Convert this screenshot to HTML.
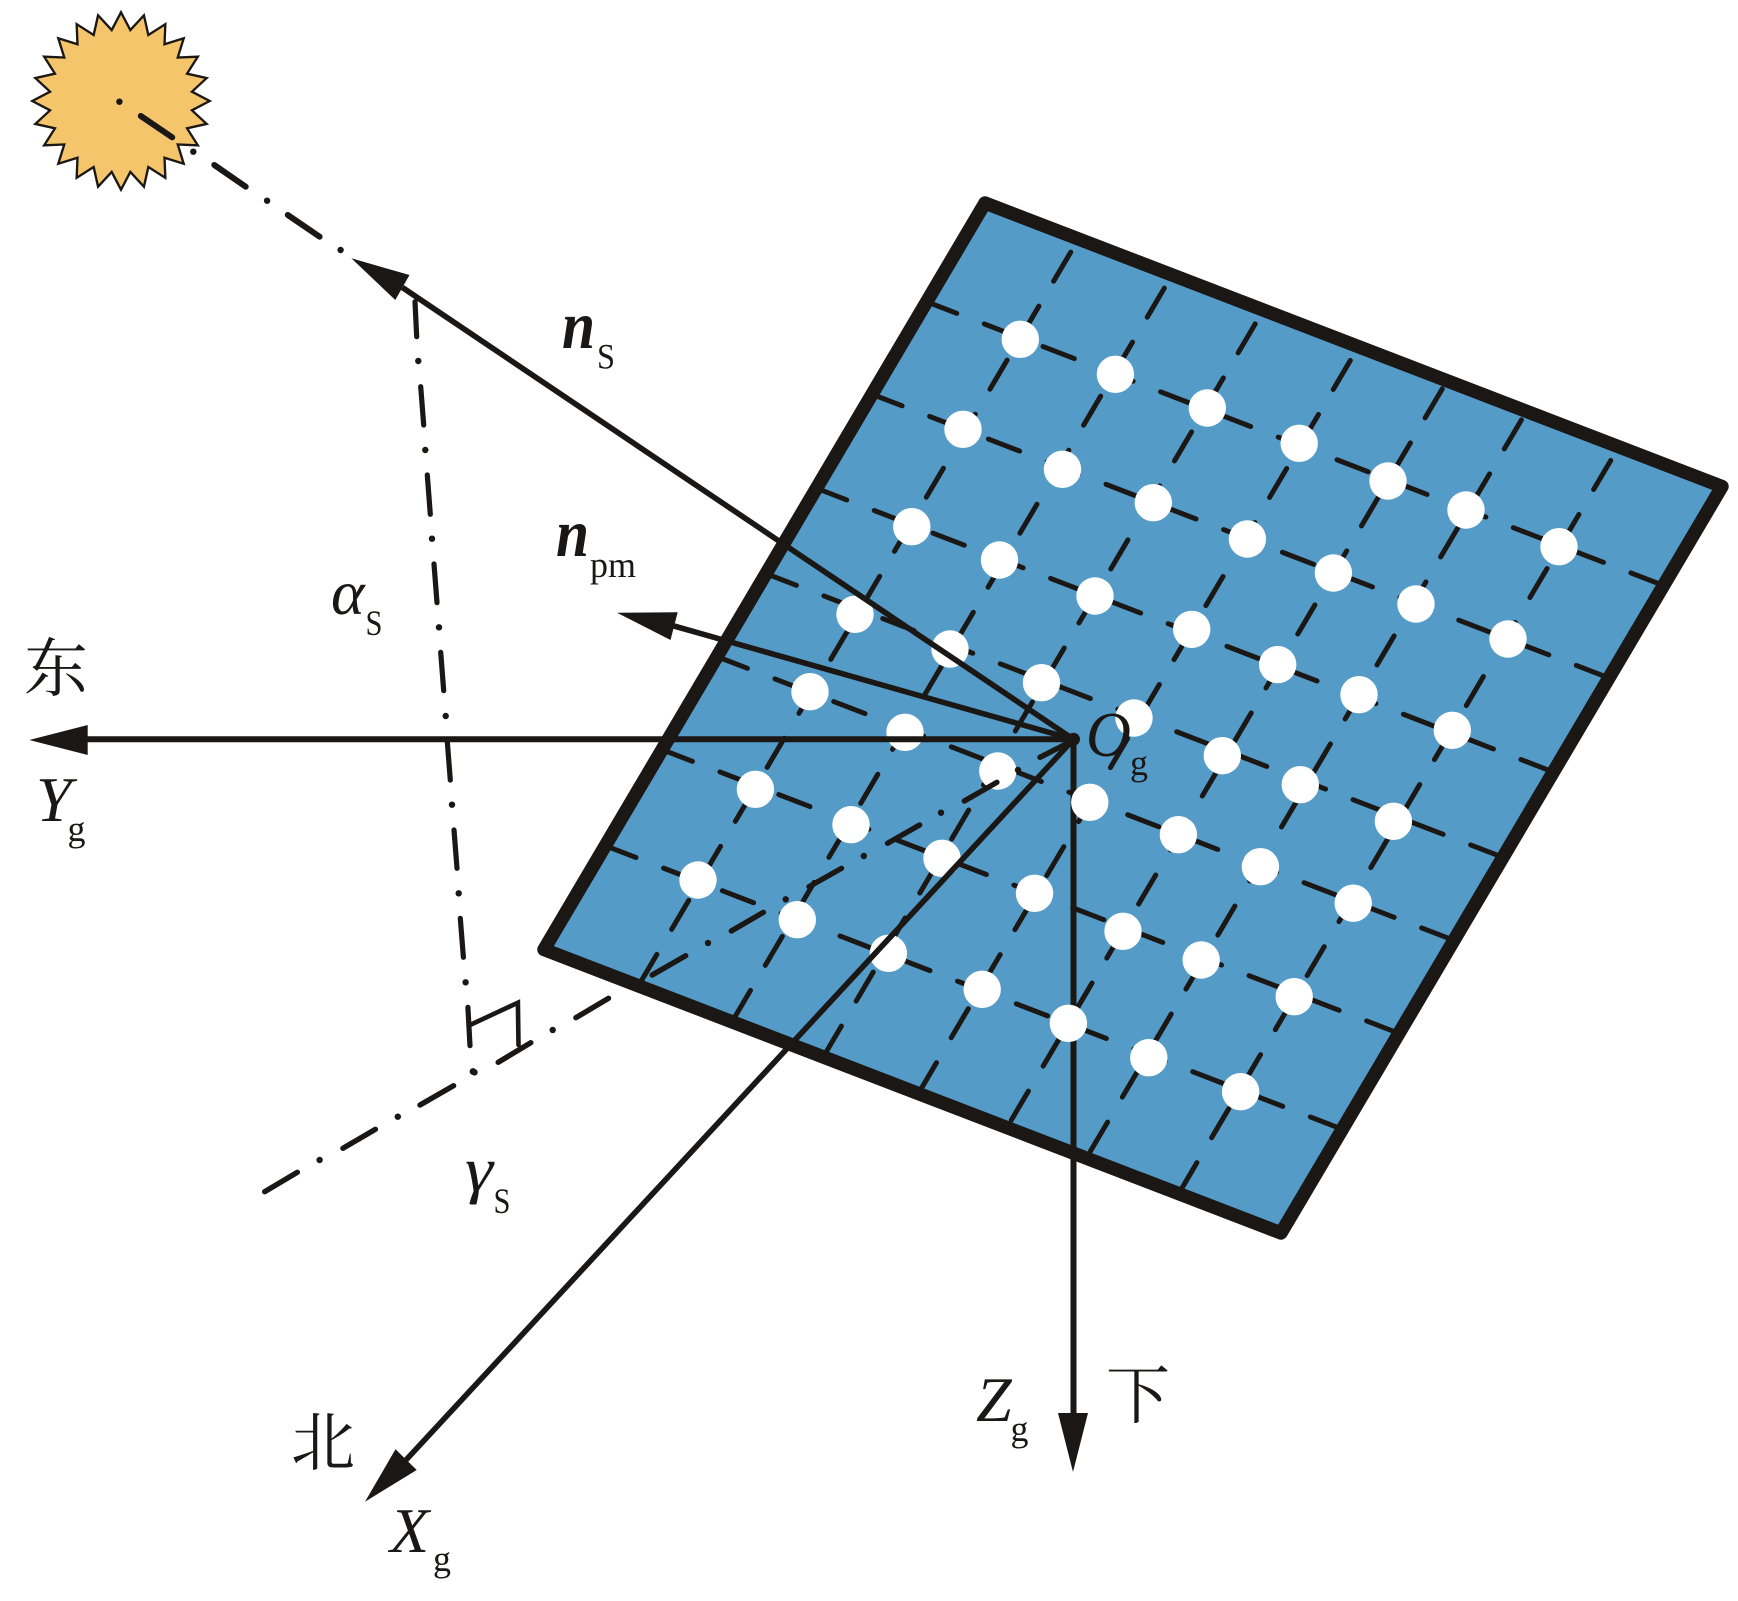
<!DOCTYPE html>
<html>
<head>
<meta charset="utf-8">
<style>
html,body{margin:0;padding:0;background:#fff;}
svg{display:block;}
text{fill:#1a1715;font-family:"Liberation Serif","Noto Serif CJK SC",serif;}
.i{font-style:italic;font-size:64px;}
.s{font-size:36px;}
.b{font-style:italic;font-weight:bold;font-size:68px;}
.c{font-size:64px;text-anchor:middle;font-family:"Noto Serif CJK SC","Liberation Serif",serif;}
</style>
</head>
<body>
<svg width="1738" height="1601" viewBox="0 0 1738 1601" xmlns="http://www.w3.org/2000/svg">
<rect width="1738" height="1601" fill="#fff"/>

<!-- sun -->
<polygon transform="translate(121 101) scale(.98)" fill="#f5c56b" stroke="#1a1715" stroke-width="2.4" stroke-linejoin="miter" points="90.5,0 72.4,9.5 87.4,23.4 67.4,27.9 78.4,45.25 57.9,44.4 64,64 44.4,57.9 45.25,78.4 27.9,67.4 23.4,87.4 9.5,72.4 0,90.5 -9.5,72.4 -23.4,87.4 -27.9,67.4 -45.25,78.4 -44.4,57.9 -64,64 -57.9,44.4 -78.4,45.25 -67.4,27.9 -87.4,23.4 -72.4,9.5 -90.5,0 -72.4,-9.5 -87.4,-23.4 -67.4,-27.9 -78.4,-45.25 -57.9,-44.4 -64,-64 -44.4,-57.9 -45.25,-78.4 -27.9,-67.4 -23.4,-87.4 -9.5,-72.4 0,-90.5 9.5,-72.4 23.4,-87.4 27.9,-67.4 45.25,-78.4 44.4,-57.9 64,-64 57.9,-44.4 78.4,-45.25 67.4,-27.9 87.4,-23.4 72.4,-9.5"/>

<!-- panel fill -->
<polygon points="985,204 1720,487 1281,1232 546,949" fill="#559bc8"/>

<!-- grid: lines parallel to top edge -->
<g stroke="#1a1715" stroke-width="5" stroke-linecap="round" fill="none" stroke-dasharray="33.5 29.5" stroke-dashoffset="2">
<line x1="927.3" y1="302" x2="1662.3" y2="585"/>
<line x1="872.7" y1="394.5" x2="1607.7" y2="677.5"/>
<line x1="817.3" y1="488.6" x2="1552.3" y2="771.6"/>
<line x1="767" y1="574" x2="1502" y2="857"/>
<line x1="718" y1="657" x2="1453" y2="940"/>
<line x1="663" y1="750" x2="1398" y2="1033"/>
<line x1="606.6" y1="846.2" x2="1341.6" y2="1129"/>
</g>
<!-- grid: lines parallel to left edge -->
<g stroke="#1a1715" stroke-width="5" stroke-linecap="round" fill="none" stroke-dasharray="33.7 29" stroke-dashoffset="-2.5">
<line x1="1072" y1="250" x2="639.1" y2="984.6"/>
<line x1="1165.6" y1="286" x2="732.7" y2="1020.6"/>
<line x1="1256.5" y1="321.7" x2="823.6" y2="1056.3"/>
<line x1="1351.6" y1="358.3" x2="918.7" y2="1092.9"/>
<line x1="1443.5" y1="386.7" x2="1007.4" y2="1126.7"/>
<line x1="1522.7" y1="417.7" x2="1086.6" y2="1157.7"/>
<line x1="1612" y1="458.3" x2="1179.1" y2="1192.9"/>
</g>

<!-- Z axis (under the white dots) -->
<line x1="1073.5" y1="739" x2="1073.5" y2="1415" stroke="#1a1715" stroke-width="6"/>
<polygon points="1058,1413 1088,1413 1073,1472" fill="#1a1715"/>

<!-- white dots -->
<g fill="#fff">
<circle cx="1020.3" cy="339.3" r="18.7"/><circle cx="1115.4" cy="374.3" r="18.7"/><circle cx="1207.3" cy="408" r="18.7"/><circle cx="1299.2" cy="443.3" r="18.7"/><circle cx="1388" cy="481" r="18.7"/><circle cx="1466" cy="510" r="18.7"/><circle cx="1559" cy="546.7" r="18.7"/>
<circle cx="963" cy="429.3" r="18.7"/><circle cx="1062.5" cy="469.3" r="18.7"/><circle cx="1153.3" cy="502.7" r="18.7"/><circle cx="1247.4" cy="539" r="18.7"/><circle cx="1333.4" cy="573" r="18.7"/><circle cx="1416" cy="604" r="18.7"/><circle cx="1508" cy="639" r="18.7"/>
<circle cx="911.8" cy="526.7" r="18.7"/><circle cx="999.5" cy="560" r="18.7"/><circle cx="1095" cy="596" r="18.7"/><circle cx="1191.7" cy="629.4" r="18.7"/><circle cx="1277.7" cy="664.6" r="18.7"/><circle cx="1359" cy="694.7" r="18.7"/><circle cx="1452.3" cy="730.3" r="18.7"/>
<circle cx="855" cy="614.3" r="18.7"/><circle cx="950" cy="649" r="18.7"/><circle cx="1041.5" cy="682.7" r="18.7"/><circle cx="1134" cy="718" r="18.7"/><circle cx="1222.3" cy="755.7" r="18.7"/><circle cx="1300.3" cy="784.7" r="18.7"/><circle cx="1393.4" cy="821.3" r="18.7"/>
<circle cx="810" cy="691.7" r="18.7"/><circle cx="905" cy="732.3" r="18.7"/><circle cx="997.8" cy="771" r="18.7"/><circle cx="1089.8" cy="802.3" r="18.7"/><circle cx="1178.4" cy="834.7" r="18.7"/><circle cx="1260.4" cy="866.7" r="18.7"/><circle cx="1353.2" cy="903.2" r="18.7"/>
<circle cx="755.4" cy="789.3" r="18.7"/><circle cx="851" cy="824.7" r="18.7"/><circle cx="942" cy="858.3" r="18.7"/><circle cx="1034.5" cy="893.3" r="18.7"/><circle cx="1123" cy="931.3" r="18.7"/><circle cx="1201.2" cy="960" r="18.7"/><circle cx="1294.2" cy="996.7" r="18.7"/>
<circle cx="698" cy="880" r="18.7"/><circle cx="797.3" cy="919.7" r="18.7"/><circle cx="888.4" cy="953.3" r="18.7"/><circle cx="982.2" cy="989.3" r="18.7"/><circle cx="1068.4" cy="1023.3" r="18.7"/><circle cx="1148.8" cy="1057.7" r="18.7"/><circle cx="1240.6" cy="1091.7" r="18.7"/>
</g>

<!-- panel border -->
<polygon points="985,203 1722,486.5 1281,1233 544,949.5" fill="none" stroke="#1a1715" stroke-width="13.5" stroke-linejoin="round"/>

<!-- Y axis -->
<line x1="1073.5" y1="739.3" x2="86" y2="739.3" stroke="#1a1715" stroke-width="6"/>
<polygon points="29.3,740 87.7,725 87.7,755" fill="#1a1715"/>

<!-- X axis -->
<line x1="1073.5" y1="739.3" x2="406" y2="1460" stroke="#1a1715" stroke-width="5.6"/>
<polygon points="365,1501.7 395.5,1449.3 416.7,1470" fill="#1a1715"/>

<!-- n_s -->
<line x1="1073.5" y1="739.3" x2="402.4" y2="287.5" stroke="#1a1715" stroke-width="5.6"/>
<polygon points="351.3,258.3 409.5,275 395.3,300" fill="#1a1715"/>

<!-- n_pm -->
<line x1="1073.5" y1="739.3" x2="674" y2="626" stroke="#1a1715" stroke-width="5.6"/>
<polygon points="617,612.7 677.7,612.3 670.5,640" fill="#1a1715"/>

<circle cx="1073.5" cy="739.3" r="6.5" fill="#1a1715"/>

<!-- dash-dot: sun ray -->
<g stroke="#1a1715" stroke-linecap="round" fill="none" stroke-width="6">
<path d="M140.8 116L172.2 137.3M214.3 165L245.7 186.7M287.8 215L319.6 236.7"/>
</g>
<g fill="#1a1715">
<circle cx="119.4" cy="101.7" r="3.2"/><circle cx="193.3" cy="151.7" r="3.2"/><circle cx="267.1" cy="200.7" r="3.2"/><circle cx="340.6" cy="250" r="3.2"/>
</g>

<!-- dash-dot: altitude -->
<path stroke="#1a1715" stroke-linecap="round" fill="none" stroke-width="5.2" d="M415 301.7L416.7 336.7M420.7 386.7L423.7 425M427.3 475L430.3 514.3M434 564L437 602.7M440.7 652.3L443.7 690.7M447.3 741.7L450.3 780M454 830L457 868.3M460.3 918.3L463.4 957.3M467.9 1007.3L470 1045.7"/>
<g fill="#1a1715">
<circle cx="418.3" cy="361" r="3.2"/><circle cx="425.3" cy="450" r="3.2"/><circle cx="432" cy="538.7" r="3.2"/><circle cx="439" cy="627.3" r="3.2"/><circle cx="445.7" cy="716" r="3.2"/><circle cx="452" cy="804.7" r="3.2"/><circle cx="458.7" cy="893.3" r="3.2"/><circle cx="465.6" cy="982.3" r="3.2"/><circle cx="473" cy="1071.5" r="3.4"/>
</g>

<!-- right angle -->
<path d="M470 1025L517.9 1002.7L518.5 1045" stroke="#1a1715" stroke-width="4.6" fill="none" stroke-linecap="round"/>

<!-- dash-dot: azimuth -->
<path stroke="#1a1715" stroke-linecap="round" fill="none" stroke-width="5.4" d="M264.7 1191.7L297.3 1172.3M342.9 1148.3L375.4 1129.3M420 1105L453.6 1085.7M498.2 1062.3L530.8 1042.7M575.9 1017.7L608.5 998.3M652.2 975L685.7 955.7M731.3 931L763.4 912.3M809 886.7L841.5 868.3M887.5 843.3L919.6 825M964.3 801L996.9 782.3M1040 757.3L1068 743"/>
<g fill="#1a1715">
<circle cx="319.6" cy="1160" r="3.2"/><circle cx="397.8" cy="1116.7" r="3.2"/><circle cx="474.5" cy="1072.3" r="3.2"/><circle cx="552.7" cy="1030" r="3.2"/><circle cx="708" cy="943" r="3.2"/><circle cx="785.7" cy="899.3" r="3.2"/><circle cx="863.8" cy="856" r="3.2"/><circle cx="941" cy="812.7" r="3.2"/><circle cx="1018" cy="770" r="3.2"/>
</g>

<!-- labels -->
<text class="b" x="562" y="348" textLength="33" lengthAdjust="spacingAndGlyphs">n</text>
<text class="s" x="597" y="368.5" textLength="18" lengthAdjust="spacingAndGlyphs">S</text>
<text class="b" x="556" y="556" textLength="33" lengthAdjust="spacingAndGlyphs">n</text>
<text class="s" x="590" y="577" textLength="46" lengthAdjust="spacingAndGlyphs">pm</text>
<text class="i" x="331" y="614">α</text>
<text class="s" x="365.5" y="635" textLength="17" lengthAdjust="spacingAndGlyphs">S</text>
<text class="c" x="56" y="691">东</text>
<text class="i" x="36" y="821">Y</text>
<text class="s" x="67.5" y="841">g</text>
<text class="i" x="1086" y="756" textLength="45" lengthAdjust="spacingAndGlyphs">O</text>
<text class="s" x="1130" y="775">g</text>
<text class="i" x="465" y="1191" textLength="28" lengthAdjust="spacingAndGlyphs">γ</text>
<text class="s" x="493.5" y="1213" textLength="17" lengthAdjust="spacingAndGlyphs">S</text>
<text class="c" x="323" y="1465">北</text>
<text class="i" x="390" y="1552">X</text>
<text class="s" x="433" y="1571">g</text>
<text class="i" x="976" y="1421">Z</text>
<text class="s" x="1010.5" y="1441">g</text>
<text class="c" x="1138" y="1418">下</text>
</svg>
</body>
</html>
